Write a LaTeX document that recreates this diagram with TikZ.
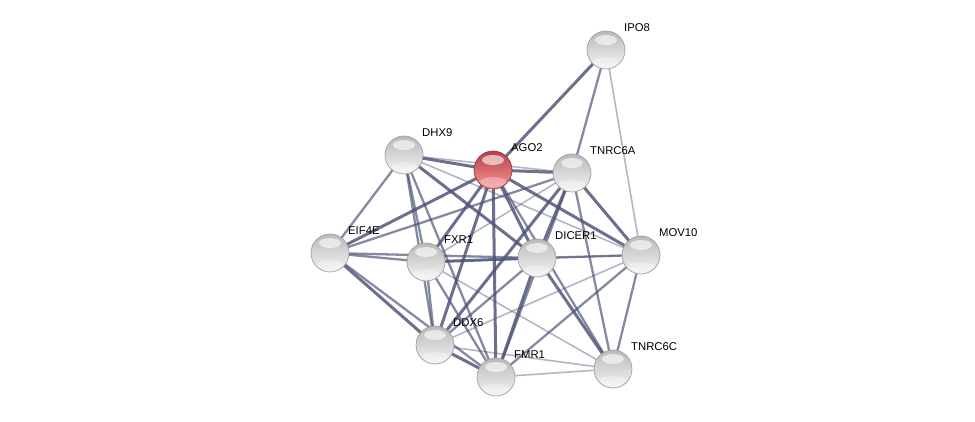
\documentclass[tikz,border=0pt]{standalone}
\usepackage{fontspec}
\setmainfont{Liberation Sans}
\usetikzlibrary{backgrounds,calc}
\definecolor{edgec}{RGB}{74,82,116}
\definecolor{redtop}{RGB}{184,66,72}
\definecolor{redmid}{RGB}{222,108,112}
\definecolor{redbot}{RGB}{246,150,150}
\tikzset{
  gloss/.style={path picture={
      \fill[white, opacity=0.6] ($(path picture bounding box.center)+(0,-10)$) ellipse (11pt and 5pt);
      \fill[white, opacity=0.3] ($(path picture bounding box.center)+(0,12)$) ellipse (13pt and 5pt);}},
  prot/.style={circle, minimum size=38pt, inner sep=0pt, top color=gray!55, middle color=gray!25, bottom color=gray!8, draw=gray!75, line width=0.7pt, gloss},
  seed/.style={prot, top color=redtop, middle color=redmid, bottom color=redbot, draw=redtop!80!black},
  lbl/.style={anchor=west, inner sep=0pt, font=\fontsize{11.3}{13}\selectfont},
  ew/.style={draw=edgec, line width=3.0pt, opacity=0.82},
  em/.style={draw=edgec, line width=2.3pt, opacity=0.68},
  el/.style={draw=edgec, line width=1.6pt, opacity=0.42},
}
\begin{document}
\begin{tikzpicture}[x=1pt, y=-1pt]
\useasboundingbox (0,0) rectangle (975,422);
\node[prot] (IPO8) at (606,50) {};
\node[seed] (AGO2) at (493,170) {};
\node[prot] (DHX9) at (404,155) {};
\node[prot] (TNRC6A) at (572,173) {};
\node[prot] (EIF4E) at (330,253) {};
\node[prot] (FXR1) at (426,262) {};
\node[prot] (DICER1) at (537,258) {};
\node[prot] (MOV10) at (641,255) {};
\node[prot] (DDX6) at (435,345) {};
\node[prot] (FMR1) at (496,377) {};
\node[prot] (TNRC6C) at (613,369) {};
\foreach \n in {IPO8,AGO2,DHX9,TNRC6A,EIF4E,FXR1,DICER1,MOV10,DDX6,FMR1,TNRC6C}{
  \node[lbl] (l\n) at ($(\n.center)+(18,-22)$) {\n};
}
\begin{scope}[on background layer]
% IPO8
\path[ew] (IPO8.center) -- (AGO2.center);
\path[em] (IPO8.center) -- (TNRC6A.center);
\path[el] (IPO8.center) -- (MOV10.center);
% AGO2
\path[ew] (AGO2.center) -- (DHX9.center);
\path[ew] (AGO2.center) -- (TNRC6A.center);
\path[ew] (AGO2.center) -- (EIF4E.center);
\path[ew] (AGO2.center) -- (FXR1.center);
\path[ew] (AGO2.center) -- (DICER1.center);
\path[ew] (AGO2.center) -- (MOV10.center);
\path[ew] (AGO2.center) -- (DDX6.center);
\path[ew] (AGO2.center) -- (FMR1.center);
\path[em] (AGO2.center) -- (TNRC6C.center);
% DHX9
\path[el] (DHX9.center) -- (TNRC6A.center);
\path[el] (DHX9.center) -- (MOV10.center);
\path[em] (DHX9.center) -- (EIF4E.center);
\path[em] (DHX9.center) -- (FXR1.center);
\path[em] (DHX9.center) -- (DDX6.center);
\path[ew] (DHX9.center) -- (DICER1.center);
\path[em] (DHX9.center) -- (FMR1.center);
% TNRC6A
\path[ew] (TNRC6A.center) -- (DDX6.center);
\path[em] (TNRC6A.center) -- (FMR1.center);
\path[ew] (TNRC6A.center) -- (DICER1.center);
\path[ew] (TNRC6A.center) -- (MOV10.center);
\path[em] (TNRC6A.center) -- (TNRC6C.center);
\path[em] (TNRC6A.center) -- (EIF4E.center);
\path[el] (TNRC6A.center) -- (FXR1.center);
% EIF4E
\path[em] (EIF4E.center) -- (FXR1.center);
\path[em] (EIF4E.center) -- (DICER1.center);
\path[ew] (EIF4E.center) -- (DDX6.center);
\path[em] (EIF4E.center) -- (FMR1.center);
% FXR1
\path[ew] (FXR1.center) -- (DICER1.center);
\path[em] (FXR1.center) -- (DDX6.center);
\path[em] (FXR1.center) -- (FMR1.center);
\path[el] (FXR1.center) -- (MOV10.center);
\path[el] (FXR1.center) -- (TNRC6C.center);
% DICER1
\path[em] (DICER1.center) -- (MOV10.center);
\path[em] (DICER1.center) -- (DDX6.center);
\path[ew] (DICER1.center) -- (FMR1.center);
\path[ew] (DICER1.center) -- (TNRC6C.center);
% MOV10
\path[el] (MOV10.center) -- (DDX6.center);
\path[em] (MOV10.center) -- (FMR1.center);
\path[em] (MOV10.center) -- (TNRC6C.center);
% DDX6
\path[ew] (DDX6.center) -- (FMR1.center);
\path[el] (DDX6.center) -- (TNRC6C.center);
% FMR1
\path[el] (FMR1.center) -- (TNRC6C.center);
\end{scope}
\end{tikzpicture}
\end{document}
